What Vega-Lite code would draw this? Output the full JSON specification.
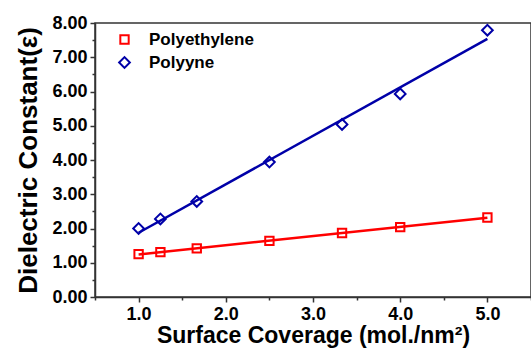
{
  "$schema": "https://vega.github.io/schema/vega-lite/v6.json",
  "width": 436,
  "height": 274,
  "autosize": {"type": "none"},
  "padding": {"left": 95, "top": 23, "right": 0, "bottom": 52},
  "background": "white",
  "config": {
    "view": {"stroke": "#333333", "strokeWidth": 1.5},
    "font": "Liberation Sans",
    "axis": {
      "domainColor": "#333333",
      "domainWidth": 1.5,
      "tickColor": "#333333",
      "tickWidth": 1.5,
      "grid": false,
      "labelOverlap": false,
      "labelFont": "Liberation Sans",
      "labelFontWeight": "bold",
      "labelFontSize": 18,
      "labelColor": "black",
      "titleFont": "Liberation Sans",
      "titleFontWeight": "bold",
      "titleColor": "black"
    },
    "legend": {
      "labelFont": "Liberation Sans",
      "labelFontWeight": "bold",
      "labelFontSize": 17,
      "labelColor": "black"
    }
  },
  "data": {
    "values": [
      {"x": 1.0, "y": 1.25, "series": "Polyethylene"},
      {"x": 1.25, "y": 1.31, "series": "Polyethylene"},
      {"x": 1.667, "y": 1.42, "series": "Polyethylene"},
      {"x": 2.5, "y": 1.64, "series": "Polyethylene"},
      {"x": 3.333, "y": 1.87, "series": "Polyethylene"},
      {"x": 4.0, "y": 2.04, "series": "Polyethylene"},
      {"x": 5.0, "y": 2.32, "series": "Polyethylene"},
      {"x": 1.0, "y": 2.0, "series": "Polyyne"},
      {"x": 1.25, "y": 2.28, "series": "Polyyne"},
      {"x": 1.667, "y": 2.79, "series": "Polyyne"},
      {"x": 2.5, "y": 3.94, "series": "Polyyne"},
      {"x": 3.333, "y": 5.04, "series": "Polyyne"},
      {"x": 4.0, "y": 5.93, "series": "Polyyne"},
      {"x": 5.0, "y": 7.79, "series": "Polyyne"}
    ]
  },
  "encoding": {
    "x": {
      "field": "x", "type": "quantitative",
      "scale": {"domain": [0.5, 5.5], "nice": false, "zero": false},
      "axis": {
        "values": [0.5, 1, 1.5, 2, 2.5, 3, 3.5, 4, 4.5, 5, 5.5],
        "labelExpr": "datum.value % 1 == 0 ? format(datum.value, '.1f') : ''",
        "labelPadding": 3,
        "tickSize": {"condition": {"test": "datum.value % 1 != 0", "value": 3}, "value": 5},
        "title": "Surface Coverage (mol./nm²)",
        "titleFontSize": 23,
        "titlePadding": 1
      }
    },
    "y": {
      "field": "y", "type": "quantitative",
      "scale": {"domain": [0, 8], "nice": false},
      "axis": {
        "values": [0, 0.5, 1, 1.5, 2, 2.5, 3, 3.5, 4, 4.5, 5, 5.5, 6, 6.5, 7, 7.5, 8],
        "labelExpr": "datum.value % 1 == 0 ? format(datum.value, '.2f') : ''",
        "labelPadding": 3,
        "tickSize": {"condition": {"test": "datum.value % 1 != 0", "value": 3}, "value": 5},
        "title": "Dielectric Constant(ε)",
        "titleFontSize": 26,
        "titlePadding": 10
      }
    },
    "color": {
      "field": "series", "type": "nominal",
      "scale": {"domain": ["Polyethylene", "Polyyne"], "range": ["#ff0000", "#0000a8"]},
      "legend": {
        "title": null,
        "orient": "none",
        "legendX": 21,
        "legendY": 8,
        "padding": 0,
        "labelOffset": 16,
        "rowPadding": 5,
        "symbolSize": 90,
        "symbolStrokeWidth": 2
      }
    }
  },
  "layer": [
    {
      "transform": [{"regression": "y", "on": "x", "groupby": ["series"]}],
      "mark": {"type": "line", "strokeWidth": 2.5}
    },
    {
      "mark": {"type": "point", "filled": false, "strokeWidth": 2, "opacity": 1},
      "encoding": {
        "shape": {
          "field": "series", "type": "nominal",
          "scale": {"domain": ["Polyethylene", "Polyyne"], "range": ["square", "diamond"]},
          "legend": {
            "title": null,
            "orient": "none",
            "legendX": 21,
            "legendY": 8,
            "padding": 0,
            "labelOffset": 16,
            "rowPadding": 5,
            "symbolSize": 90,
            "symbolStrokeWidth": 2
          }
        },
        "size": {
          "field": "series", "type": "nominal",
          "scale": {"domain": ["Polyethylene", "Polyyne"], "range": [70, 115]},
          "legend": null
        }
      }
    }
  ]
}
